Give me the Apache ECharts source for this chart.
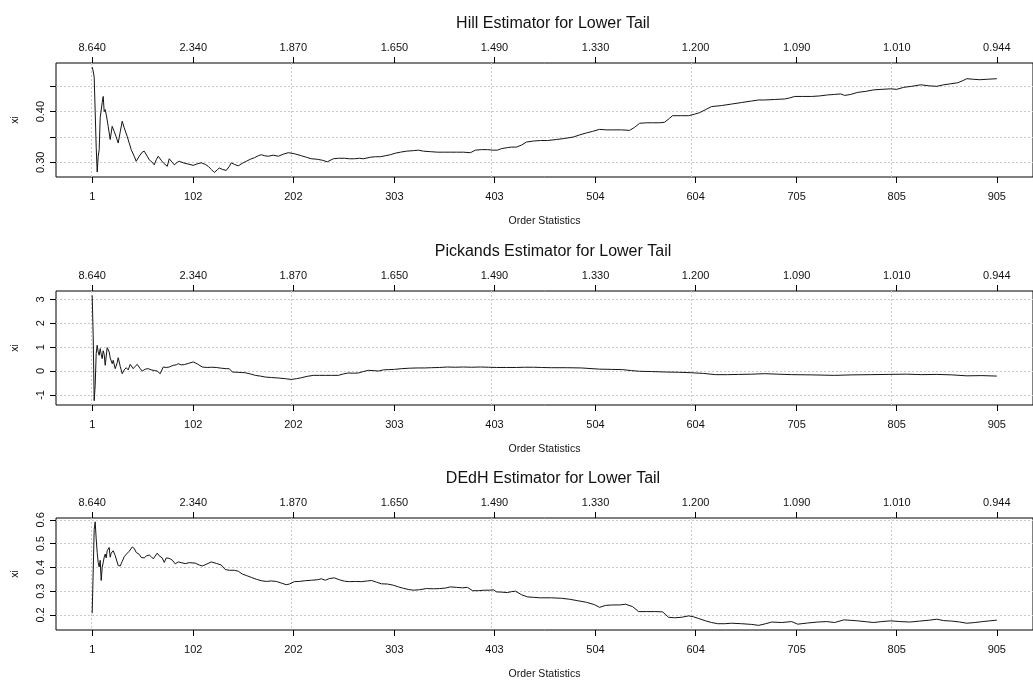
<!DOCTYPE html>
<html>
<head>
<meta charset="utf-8">
<script src="https://cdn.jsdelivr.net/npm/echarts@6/dist/echarts.min.js"></script>
<style>
  html, body { margin: 0; padding: 0; background: #ffffff; }
  #chart { width: 1033px; height: 681px; }
</style>
</head>
<body>
<div id="chart"></div>
<script>
// Shared axes: number of order statistics (bottom) and matching thresholds (top)
const orderTicks = [1, 102, 202, 303, 403, 504, 604, 705, 805, 905];
const thresholdLabels = ['8.640', '2.340', '1.870', '1.650', '1.490', '1.330', '1.200', '1.090', '1.010', '0.944'];
const orderGridValues = [0, 200, 400, 600, 800];

// Hill estimator of xi
const hillOrder = [1,2,3,4,5,6,7,8,9,10,11,12,13,14,15,17,19,21,23,25,27,29,31,33,36,38,40,43,45,48,51,53,56,58,61,63,65,67,70,72,76,78,81,83,86,88,92,96,102,106,110,114,117,120,123,126,128,131,135,138,140,143,147,151,155,159,163,167,170,173,177,182,187,192,197,203,210,215,220,226,231,236,242,247,253,258,263,268,272,279,284,289,294,299,304,309,315,322,327,332,339,346,352,359,365,372,379,384,390,396,401,406,410,416,420,425,430,435,442,449,456,465,473,482,488,495,501,508,515,521,530,538,543,548,555,561,568,573,578,581,590,597,603,608,614,620,630,640,650,660,667,673,683,693,698,703,711,720,728,736,743,749,753,759,766,774,782,790,799,805,812,820,829,837,845,852,859,866,872,875,881,888,896,905];
const hillXi = [0.488,0.480,0.468,0.400,0.330,0.281,0.312,0.325,0.388,0.391,0.418,0.430,0.400,0.404,0.395,0.371,0.345,0.371,0.361,0.350,0.338,0.360,0.381,0.368,0.351,0.338,0.325,0.312,0.302,0.312,0.320,0.322,0.312,0.305,0.300,0.295,0.305,0.312,0.304,0.299,0.292,0.307,0.300,0.295,0.300,0.302,0.299,0.297,0.294,0.297,0.299,0.296,0.292,0.286,0.280,0.285,0.289,0.286,0.284,0.292,0.299,0.296,0.293,0.298,0.302,0.306,0.309,0.313,0.315,0.313,0.312,0.314,0.312,0.316,0.319,0.317,0.313,0.310,0.307,0.306,0.304,0.301,0.307,0.308,0.308,0.307,0.307,0.308,0.307,0.310,0.311,0.311,0.313,0.315,0.318,0.320,0.322,0.323,0.324,0.322,0.321,0.320,0.320,0.320,0.320,0.320,0.319,0.324,0.325,0.325,0.324,0.324,0.327,0.329,0.330,0.330,0.334,0.340,0.342,0.343,0.343,0.345,0.347,0.350,0.354,0.358,0.361,0.365,0.364,0.364,0.364,0.363,0.369,0.377,0.378,0.378,0.378,0.379,0.387,0.392,0.392,0.392,0.395,0.398,0.404,0.410,0.412,0.415,0.418,0.421,0.423,0.423,0.424,0.425,0.427,0.430,0.430,0.430,0.431,0.433,0.434,0.435,0.432,0.434,0.438,0.440,0.443,0.444,0.445,0.444,0.448,0.450,0.453,0.451,0.450,0.453,0.455,0.457,0.462,0.465,0.464,0.463,0.464,0.465];
const hillTicks = [0.30, 0.35, 0.40, 0.45];
const hillTickLabels = [0.30, 0.40];

// Pickands estimator of xi
const pickandsOrder = [1,2,3,4,5,6,7,8,9,10,11,12,13,14,16,18,19,21,22,24,26,27,29,31,33,35,37,39,42,44,46,49,51,54,57,60,63,66,69,72,75,78,82,85,87,90,93,97,102,106,111,116,120,125,130,135,138,141,146,150,154,159,164,169,174,180,187,194,200,205,210,216,222,228,234,240,247,252,257,262,267,272,277,282,287,292,297,303,310,318,326,333,340,348,356,364,372,380,389,397,405,415,425,433,442,450,460,475,490,508,520,531,540,548,560,574,587,600,612,624,636,647,660,673,686,700,720,743,760,779,797,815,830,845,860,875,890,905];
const pickandsXi = [3.17,1.50,-1.24,-0.60,0.73,1.08,0.80,0.66,0.94,0.70,0.52,0.85,0.70,0.24,0.98,0.80,0.55,0.31,0.45,0.10,0.35,0.56,0.20,-0.11,0.05,0.14,0.05,0.28,0.10,0.20,0.28,0.10,0.00,0.08,0.10,0.05,0.02,0.00,-0.11,0.17,0.15,0.17,0.24,0.26,0.31,0.26,0.27,0.32,0.38,0.30,0.17,0.15,0.16,0.15,0.12,0.10,0.10,-0.04,-0.05,-0.06,-0.07,-0.12,-0.18,-0.21,-0.25,-0.27,-0.29,-0.32,-0.35,-0.32,-0.28,-0.22,-0.18,-0.18,-0.18,-0.18,-0.18,-0.12,-0.08,-0.09,-0.08,-0.02,0.03,0.02,0.00,0.05,0.06,0.07,0.10,0.12,0.13,0.13,0.14,0.15,0.17,0.16,0.17,0.16,0.17,0.16,0.15,0.15,0.15,0.16,0.16,0.15,0.14,0.14,0.13,0.08,0.07,0.06,0.02,-0.01,-0.02,-0.04,-0.05,-0.07,-0.10,-0.15,-0.15,-0.14,-0.13,-0.11,-0.13,-0.15,-0.16,-0.18,-0.16,-0.15,-0.14,-0.13,-0.15,-0.14,-0.16,-0.20,-0.19,-0.21];
const pickandsTicks = [-1, 0, 1, 2, 3];

// Dekkers-Einmahl-de Haan estimator of xi
const dedhOrder = [1,2,3,4,5,6,7,8,9,10,11,12,13,14,15,16,18,19,20,22,24,25,27,29,31,33,35,38,41,43,45,48,50,53,55,58,60,62,66,68,71,73,75,78,81,84,87,90,94,98,104,108,111,115,120,125,130,134,138,143,147,151,155,160,165,170,175,180,185,190,195,198,203,208,214,220,226,230,234,238,243,248,253,258,264,270,276,280,285,290,296,302,307,312,317,322,328,335,342,348,354,359,365,371,376,381,387,393,398,402,405,410,416,420,424,430,436,442,449,460,470,478,486,495,503,508,514,521,528,534,541,547,555,563,571,577,583,590,597,602,607,614,620,626,633,640,650,660,667,674,680,690,700,706,716,726,735,743,752,760,766,775,782,790,799,808,818,828,838,845,852,860,868,875,883,891,898,905];
const dedhXi = [0.207,0.380,0.560,0.592,0.520,0.463,0.420,0.402,0.430,0.345,0.400,0.420,0.443,0.456,0.440,0.470,0.484,0.443,0.460,0.470,0.450,0.445,0.408,0.406,0.425,0.445,0.455,0.468,0.486,0.480,0.463,0.455,0.442,0.440,0.448,0.452,0.445,0.436,0.460,0.449,0.440,0.421,0.440,0.438,0.431,0.415,0.423,0.420,0.416,0.420,0.418,0.410,0.406,0.413,0.423,0.417,0.410,0.391,0.388,0.388,0.384,0.372,0.366,0.358,0.350,0.344,0.341,0.343,0.341,0.334,0.327,0.330,0.340,0.341,0.344,0.346,0.348,0.352,0.346,0.353,0.356,0.348,0.342,0.340,0.341,0.340,0.343,0.345,0.338,0.331,0.330,0.325,0.318,0.312,0.307,0.304,0.306,0.311,0.310,0.311,0.313,0.318,0.316,0.314,0.316,0.302,0.302,0.304,0.304,0.306,0.297,0.296,0.294,0.298,0.300,0.285,0.276,0.274,0.272,0.272,0.270,0.266,0.260,0.253,0.243,0.232,0.240,0.242,0.242,0.245,0.235,0.214,0.214,0.214,0.213,0.190,0.188,0.190,0.196,0.192,0.185,0.175,0.168,0.163,0.163,0.165,0.163,0.160,0.156,0.163,0.170,0.168,0.172,0.161,0.166,0.170,0.172,0.168,0.179,0.177,0.175,0.171,0.168,0.172,0.175,0.172,0.170,0.174,0.178,0.182,0.176,0.174,0.170,0.165,0.168,0.172,0.175,0.178];
const dedhTicks = [0.2, 0.3, 0.4, 0.5, 0.6];

const FONT = '"Liberation Sans", Arial, sans-serif';
const INK = '#111111';
const GRID_LINE = { color: '#c9c9c9', width: 1, type: [2, 2] };

// x range padded by 4% on each side of 1..905
const X_MIN = 1 - 0.04 * 904;
const X_MAX = 905 + 0.04 * 904;

const panels = [
  { title: 'Hill Estimator for Lower Tail', order: hillOrder, xi: hillXi,
    yMin: 0.271, yMax: 0.496, ticks: hillTicks, labels: hillTickLabels, digits: 2 },
  { title: 'Pickands Estimator for Lower Tail', order: pickandsOrder, xi: pickandsXi,
    yMin: -1.42, yMax: 3.35, ticks: pickandsTicks, labels: pickandsTicks, digits: 0 },
  { title: 'DEdH Estimator for Lower Tail', order: dedhOrder, xi: dedhXi,
    yMin: 0.1365, yMax: 0.608, ticks: dedhTicks, labels: dedhTicks, digits: 1 }
];

const PANEL_TOP = [63, 291, 518];
const PANEL_H = 114;
const labelStyle = { fontFamily: FONT, fontSize: 11, color: INK };
const noLine = { show: false, onZero: false };

const option = { animation: false, backgroundColor: '#ffffff',
  title: [], grid: [], xAxis: [], yAxis: [], series: [] };

panels.forEach((p, i) => {
  option.title.push({
    text: p.title, left: 548, textAlign: 'center', top: PANEL_TOP[i] - 52,
    textStyle: { fontFamily: FONT, fontSize: 16, fontWeight: 'normal', color: INK }
  });
  option.grid.push({
    left: 56, width: 984, top: PANEL_TOP[i], height: PANEL_H,
    show: true, borderColor: '#000000', borderWidth: 1, backgroundColor: 'transparent'
  });
  // bottom: order statistics
  option.xAxis.push({
    gridIndex: i, type: 'value', position: 'bottom', min: X_MIN, max: X_MAX,
    axisLine: noLine,
    axisTick: { show: true, customValues: orderTicks, length: 6, lineStyle: { color: '#000' } },
    axisLabel: Object.assign({ customValues: orderTicks, margin: 14, formatter: v => String(v) }, labelStyle),
    splitLine: { show: false },
    name: 'Order Statistics', nameLocation: 'middle', nameGap: 39,
    nameTextStyle: { fontFamily: FONT, fontSize: 10.5, color: INK }
  });
  // top: thresholds
  option.xAxis.push({
    gridIndex: i, type: 'value', position: 'top', min: X_MIN, max: X_MAX,
    axisLine: noLine,
    axisTick: { show: true, customValues: orderTicks, length: 6, lineStyle: { color: '#000' } },
    axisLabel: Object.assign({ customValues: orderTicks, margin: 10,
      formatter: v => thresholdLabels[orderTicks.indexOf(Math.round(v))] || '' }, labelStyle),
    splitLine: { show: false }
  });
  // vertical dotted guide lines
  option.xAxis.push({
    gridIndex: i, type: 'value', position: 'bottom', min: X_MIN, max: X_MAX,
    axisLine: noLine,
    axisTick: { show: false, customValues: orderGridValues },
    axisLabel: { show: false, customValues: orderGridValues },
    splitLine: { show: true, lineStyle: GRID_LINE }
  });
  option.yAxis.push({
    gridIndex: i, type: 'value', position: 'left', min: p.yMin, max: p.yMax,
    axisLine: noLine,
    axisTick: { show: true, customValues: p.ticks, length: 6, lineStyle: { color: '#000' } },
    axisLabel: Object.assign({ customValues: p.labels, rotate: 90, margin: 10,
      formatter: v => Number(v).toFixed(p.digits) }, labelStyle),
    splitLine: { show: true, lineStyle: GRID_LINE },
    name: 'xi', nameLocation: 'middle', nameRotate: 90, nameGap: 35,
    nameTextStyle: { fontFamily: FONT, fontSize: 10.5, color: INK }
  });
  option.series.push({
    type: 'line', xAxisIndex: 3 * i, yAxisIndex: i,
    data: p.order.map((k, j) => [k, p.xi[j]]),
    showSymbol: false, silent: true, z: 5,
    lineStyle: { width: 1, color: '#141414' }
  });
});

const chart = echarts.init(document.getElementById('chart'), null, { renderer: 'canvas' });
chart.setOption(option);
</script>
</body>
</html>
